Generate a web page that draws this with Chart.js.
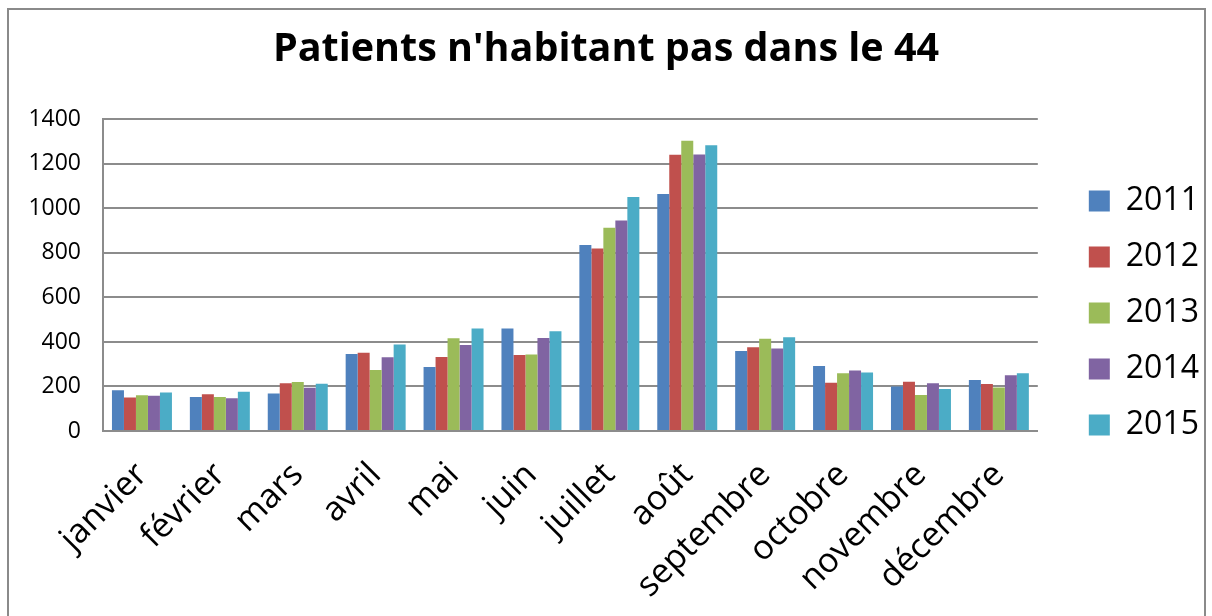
<!DOCTYPE html>
<html>
<head>
<meta charset="utf-8">
<script src="https://cdn.jsdelivr.net/npm/chart.js@4"></script>
<style>
  html, body { margin: 0; padding: 0; background: #fff; }
  #wrap { position: relative; width: 1212px; height: 616px; overflow: hidden; }
  #frame { position: absolute; left: 7px; top: 8px; width: 1195px; height: 640px; border: 2px solid #8a8a8a; }
  #chart { position: absolute; left: 0; top: 0; }
</style>
</head>
<body>
<div id="wrap">
  <div id="frame"></div>
  <canvas id="chart" width="1212" height="616"></canvas>
</div>
<script>
const months = ['janvier', 'février', 'mars', 'avril', 'mai', 'juin', 'juillet', 'août', 'septembre', 'octobre', 'novembre', 'décembre'];
const years = ['2011', '2012', '2013', '2014', '2015'];
const colors = ['#4F81BD', '#C0504D', '#9BBB59', '#8064A2', '#4BACC6'];

const v2011 = [183, 153, 168, 346, 287, 460, 836, 1065, 359, 292, 200, 229];
const v2012 = [150, 165, 214, 352, 332, 341, 820, 1241, 376, 217, 221, 211];
const v2013 = [161, 153, 220, 274, 417, 344, 913, 1304, 415, 259, 162, 195];
const v2014 = [158, 147, 194, 331, 386, 418, 946, 1242, 371, 272, 215, 250];
const v2015 = [173, 176, 212, 389, 460, 448, 1051, 1284, 421, 263, 189, 260];
const series = [v2011, v2012, v2013, v2014, v2015];

const FONT = '"Open Sans", "Noto Sans", sans-serif';
const GRID = '#8c8c8c';
const LEGEND_EXTRA = 18; // extra legend width so the plot stops near x=1040
const LEGEND_DX = 27;    // push legend items right
const LEGEND_DY = 5;     // and a little down

// widen the legend box and nudge its items, Excel-style spacing
const legendGap = {
  id: 'legendGap',
  beforeInit(chart) {
    const lg = chart.legend;
    if (!lg) return;
    const fit = lg.fit;
    lg.fit = function () {
      fit.call(this);
      this.width += LEGEND_EXTRA;
    };
    const draw = lg.draw;
    lg.draw = function () {
      const ctx = this.ctx;
      ctx.save();
      ctx.translate(LEGEND_DX, LEGEND_DY);
      draw.call(this);
      ctx.restore();
    };
  },
};

const datasets = years.map((y, i) => ({
  label: y,
  data: series[i],
  backgroundColor: colors[i],
  borderWidth: 0,
  barPercentage: 1,
  categoryPercentage: 0.77,
}));

new Chart(document.getElementById('chart'), {
  type: 'bar',
  data: { labels: months, datasets },
  plugins: [legendGap],
  options: {
    responsive: false,
    animation: false,
    layout: { padding: { top: 8, left: 12, right: 12, bottom: 8 } },
    scales: {
      x: {
        grid: { display: false, drawTicks: false },
        border: { color: GRID, width: 2 },
        ticks: {
          color: '#000',
          font: { family: FONT, size: 34 },
          maxRotation: 45,
          minRotation: 45,
          padding: 24,
        },
        afterFit: (s) => { s.height = 616 - 431 - 8; },
      },
      y: {
        min: 0,
        max: 1400,
        grid: { color: GRID, lineWidth: 2, drawTicks: false },
        border: { color: GRID, width: 2 },
        ticks: {
          stepSize: 200,
          color: '#000',
          font: { family: FONT, size: 23 },
          padding: 22,
          callback: (v) => String(v),
        },
        afterFit: (s) => { s.width = 103 - 12; },
      },
    },
    plugins: {
      title: {
        display: true,
        text: "Patients n'habitant pas dans le 44",
        color: '#000',
        font: { family: FONT, size: 39.5, weight: 'bold' },
        padding: { top: 18, bottom: 46 },
      },
      legend: {
        position: 'right',
        labels: {
          color: '#000',
          font: { family: FONT, size: 32 },
          boxWidth: 21,
          boxHeight: 21,
          padding: 24,
        },
      },
      tooltip: { enabled: false },
    },
  },
});
</script>
</body>
</html>
